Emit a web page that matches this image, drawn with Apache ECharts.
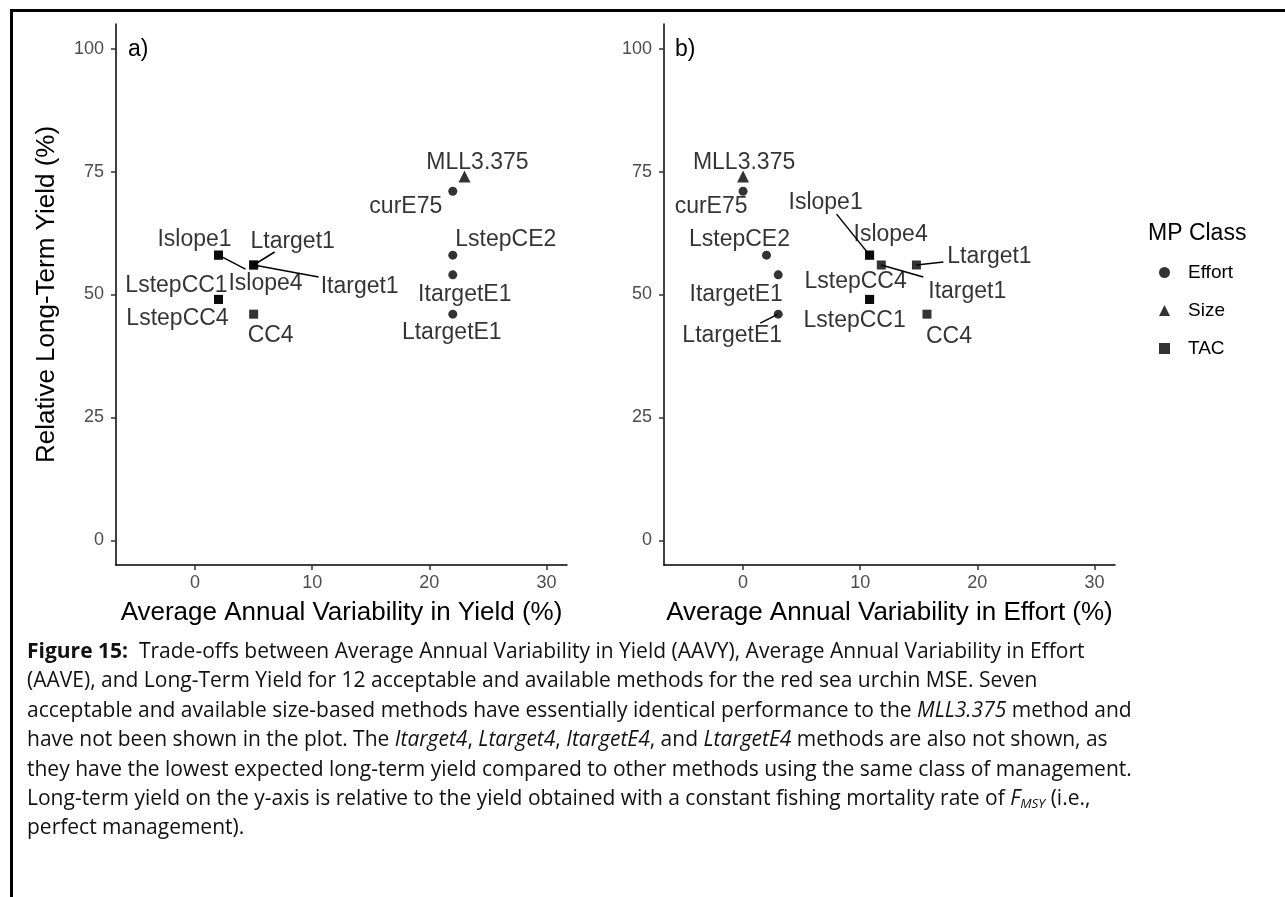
<!DOCTYPE html>
<html><head><meta charset="utf-8">
<script src="https://cdn.jsdelivr.net/npm/echarts@6/dist/echarts.min.js"></script>
<style>
html,body{margin:0;padding:0;background:#fff;}
#frame{position:absolute;left:10px;top:9px;width:1300px;height:900px;border-top:3px solid #000;border-left:3px solid #000;}
#chart{position:absolute;left:0;top:0;width:1285px;height:897px;}
#caption{position:absolute;left:27px;top:636px;font-family:'Open Sans',Lato,sans-serif;font-size:21px;line-height:29.4px;color:#111;white-space:nowrap;}
#caption sub{font-size:13.5px;vertical-align:-3px;line-height:0;}
</style></head><body>
<div id="frame"></div>
<div id="chart"></div>
<div id="caption"><b>Figure 15:</b>&nbsp; Trade-offs between Average Annual Variability in Yield (AAVY), Average Annual Variability in Effort<br>(AAVE), and Long-Term Yield for 12 acceptable and available methods for the red sea urchin MSE. Seven<br>acceptable and available size-based methods have essentially identical performance to the <i>MLL3.375</i> method and<br>have not been shown in the plot. The <i>Itarget4</i>, <i>Ltarget4</i>, <i>ItargetE4</i>, and <i>LtargetE4</i> methods are also not shown, as<br>they have the lowest expected long-term yield compared to other methods using the same class of management.<br>Long-term yield on the y-axis is relative to the yield obtained with a constant fishing mortality rate of <i>F<sub>MSY</sub></i> (i.e.,<br>perfect management).</div>
<script>
// ---- data ----
const methods = ['curE75','LstepCE2','ItargetE1','LtargetE1','MLL3.375','Islope1','Islope4','Itarget1','Ltarget1','LstepCC1','LstepCC4','CC4'];
const mpClass = ['Effort','Effort','Effort','Effort','Size','TAC','TAC','TAC','TAC','TAC','TAC','TAC'];
const aavy = [22,22,22,22,23,2,2,5,5,2,2,5];
const aave = [0,2,3,3,0,10.8,10.8,11.8,14.8,10.8,10.8,15.7];
const ltYield = [71,58,54,46,74,58,58,56,56,49,49,46];
const classes = ['Effort','Size','TAC'];
const xTicks = [0,10,20,30];
const yTicks = [0,25,50,75,100];

// ---- layout: label centre offset [dx,dy] and optional segment end offset [sx,sy], in px ----
const labelPosA = {
  'MLL3.375':[13,-14], curE75:[-47,15], LstepCE2:[53,-15], ItargetE1:[12,20], LtargetE1:[-1,18],
  Islope1:[-24,-15], Islope4:[47,29,27,14], Ltarget1:[39,-23,21,-13], Itarget1:[106,22,65,12],
  LstepCC1:[-42,-14], LstepCC4:[-41,19], CC4:[17,21]
};
const labelPosB = {
  'MLL3.375':[1,-14], curE75:[-32,15], LstepCE2:[-27,-15], ItargetE1:[-42,20], LtargetE1:[-46,21,-18,9],
  Islope1:[-44,-52,-33,-41], Islope4:[21,-20], Ltarget1:[73,-8,27,-3], Itarget1:[86,27,42,12],
  LstepCC4:[-14,-18], LstepCC1:[-15,21], CC4:[22,22]
};
const symbolOf = {Effort:'circle', Size:'triangle', TAC:'rect'};
const sizeOf = {Effort:9, Size:12, TAC:9};
const FONT = "'Liberation Sans', Arial, sans-serif";

function buildSeries(panel, xs, pos) {
  const out = classes.map(c => ({
    name: c, type: 'scatter', xAxisIndex: panel, yAxisIndex: panel, z: 3,
    symbol: symbolOf[c], symbolSize: sizeOf[c],
    itemStyle: {color: '#000'},
    emphasis: {disabled: true},
    data: methods.map((m, i) => i).filter(i => mpClass[i] === c).map(i => ({
      name: methods[i], value: [xs[i], ltYield[i]]
    })),
    label: {show: true, formatter: '{b}', position: 'inside', color: '#000', fontSize: 23, fontFamily: FONT,
            textBorderWidth: 0},
    labelLayout: function (p) { const o = pos[p.text] || [0,0]; return {dx: o[0], dy: o[1]}; }
  }));
  // repel-style segments from each point towards its label
  const segData = methods.map((m, i) => i).filter(i => pos[methods[i]].length > 2)
    .map(i => [xs[i], ltYield[i], pos[methods[i]][2], pos[methods[i]][3]]);
  out.push({
    type: 'custom', xAxisIndex: panel, yAxisIndex: panel, z: 2, silent: true,
    data: segData,
    renderItem: function (params, api) {
      const p = api.coord([api.value(0), api.value(1)]);
      return {type: 'line', shape: {x1: p[0], y1: p[1], x2: p[0] + api.value(2), y2: p[1] + api.value(3)},
              style: {stroke: '#000', lineWidth: 1.5}};
    }
  });
  return out;
}

function xAxisCfg(idx, name) {
  return {
    type: 'value', gridIndex: idx, min: -6.75, max: 31.75,
    name: name, nameLocation: 'middle', nameGap: 35,
    nameTextStyle: {fontSize: 26, color: '#000', fontFamily: FONT},
    axisLine: {show: true, onZero: false, lineStyle: {color: '#000', width: 1.5}},
    axisTick: {show: true, customValues: xTicks, length: 5, lineStyle: {color: '#333', width: 1.5}},
    axisLabel: {customValues: xTicks, fontSize: 18, color: '#4d4d4d', margin: 9, fontFamily: FONT},
    splitLine: {show: false}
  };
}
function yAxisCfg(idx, name) {
  return {
    type: 'value', gridIndex: idx, min: -5, max: 105,
    name: name, nameLocation: 'middle', nameGap: 56,
    nameTextStyle: {fontSize: 26, color: '#000', fontFamily: FONT},
    axisLine: {show: true, onZero: false, lineStyle: {color: '#000', width: 1.5}},
    axisTick: {show: true, customValues: yTicks, length: 5, lineStyle: {color: '#333', width: 1.5}},
    axisLabel: {customValues: yTicks, fontSize: 18, color: '#4d4d4d', margin: 12, fontFamily: FONT},
    splitLine: {show: false}
  };
}

const chart = echarts.init(document.getElementById('chart'), null, {renderer: 'canvas'});
chart.setOption({
  backgroundColor: 'transparent',
  animation: false,
  grid: [
    {left: 116, top: 24, width: 451, height: 541},
    {left: 664, top: 24, width: 451, height: 541}
  ],
  xAxis: [xAxisCfg(0, 'Average Annual Variability in Yield (%)'), xAxisCfg(1, 'Average Annual Variability in Effort (%)')],
  yAxis: [yAxisCfg(0, 'Relative Long-Term Yield (%)'), yAxisCfg(1, '')],
  legend: {
    data: classes.map(c => ({name: c, icon: symbolOf[c]})),
    orient: 'vertical', left: 1154, top: 258,
    itemWidth: 11, itemHeight: 11, itemGap: 19,
    textStyle: {fontSize: 19, color: '#000', fontFamily: FONT, padding: [0, 0, 0, 13]},
    selectedMode: false
  },
  graphic: [
    {type: 'text', left: 128, top: 38, style: {text: 'a)', fontSize: 23, fill: '#000', fontFamily: FONT}},
    {type: 'text', left: 675, top: 38, style: {text: 'b)', fontSize: 23, fill: '#000', fontFamily: FONT}},
    {type: 'text', left: 1148, top: 222, style: {text: 'MP Class', fontSize: 23, fill: '#000', fontFamily: FONT}}
  ],
  series: [].concat(buildSeries(0, aavy, labelPosA), buildSeries(1, aave, labelPosB))
});
</script>
</body></html>
